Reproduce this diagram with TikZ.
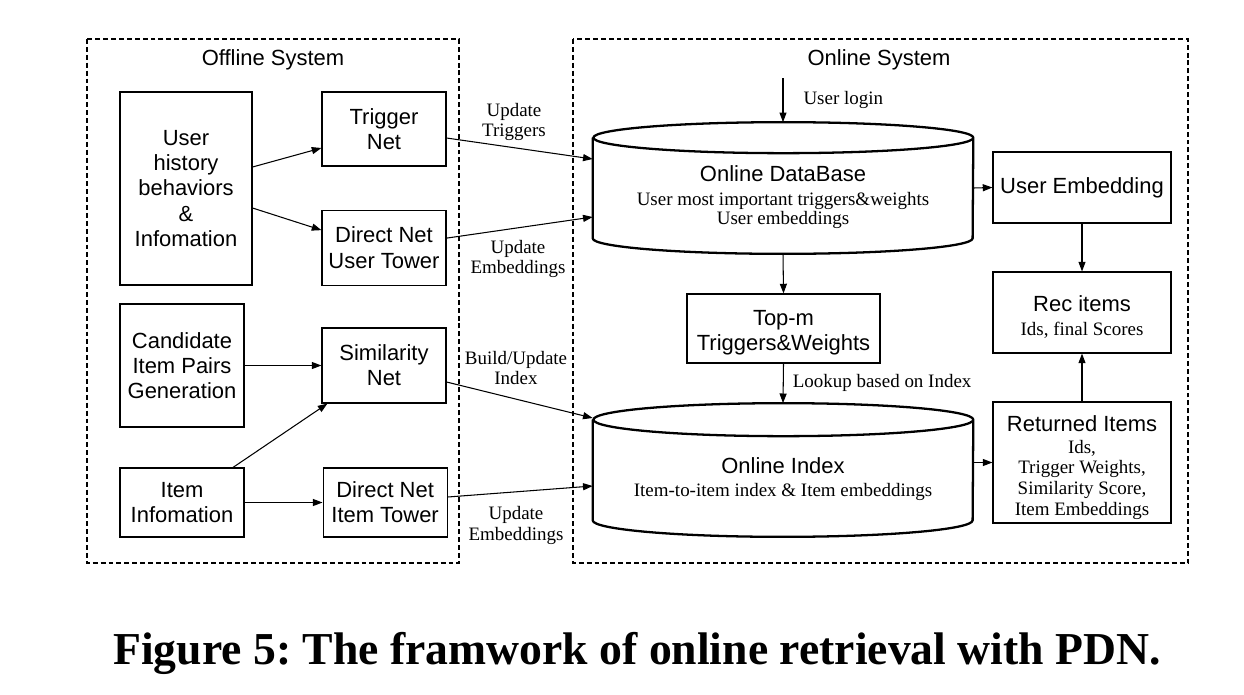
\documentclass[tikz,border=0pt]{standalone}
\usepackage{fontspec}
\setmainfont{Liberation Serif}
\setsansfont{Liberation Sans}
\usetikzlibrary{arrows.meta,positioning}

\newcommand{\boxfont}{\sffamily\fontsize{12.5}{14.3}\selectfont}
\newcommand{\notefont}{\rmfamily\fontsize{10.8}{11.9}\selectfont}
\frenchspacing

\begin{document}
\begin{tikzpicture}[x=0.02cm, y=-0.02cm,
  module/.style={rectangle, draw, line width=0.65pt, align=center,
    font=\boxfont, inner sep=0pt, minimum width=2.48cm},
  store/.style={rectangle, minimum width=7.6cm, minimum height=2cm,
    inner sep=0pt},
  storeline/.style={line width=1.3pt},
  zone/.style={draw, dash pattern=on 2.8pt off 1.7pt, line width=0.6pt},
  flow/.style={-{Triangle[length=5.5pt,width=4pt]}, line width=0.6pt},
  note/.style={font=\notefont, align=center, inner sep=0pt}
]
\useasboundingbox (0,0) rectangle (1244,694);

% System frames
\draw[zone] (87,39) rectangle (459,563);
\draw[zone] (573,39) rectangle (1188,563);
\node[font=\boxfont] (offTitle) at (273,60) {Offline System};
\node[font=\boxfont] (onTitle) at (879,60) {Online System};

% Offline modules
\node[module, minimum width=2.64cm, minimum height=3.86cm] (hist)
  at (186,188.5) {User\\history\\behaviors\\\&\\Infomation};
\node[module, minimum height=1.48cm] (trig) at (384,129)
  {Trigger\\Net};
\node[module, minimum height=1.5cm, below=0.86cm of trig] (dnu)
  {Direct Net\\User Tower};
\node[module, minimum height=2.46cm] (cand) at (182,365.5)
  {Candidate\\Item Pairs\\Generation};
\node[module, minimum height=1.5cm] (sim) at (384,365.5)
  {Similarity\\Net};
\node[module, minimum height=1.38cm] (item) at (182,502.5)
  {Item\\Infomation};
\node[module, minimum height=1.38cm, right=1.56cm of item] (dni)
  {Direct Net\\Item Tower};

% Online stores
\node[store] (db) at (783,188) {};
\draw[storeline] (db.north west) -- (db.south west)
  arc[start angle=180, end angle=360, x radius=3.8cm, y radius=0.31cm]
  -- (db.north east)
  arc[start angle=0, end angle=360, x radius=3.8cm, y radius=0.31cm];
\node[note] (dbText) at (783,197)
  {{\boxfont Online DataBase}\\[1.4pt]
   User most important triggers\&weights\\[-1pt]
   User embeddings};

\node[store] (idx) at (783,470) {};
\draw[storeline] (idx.north west) -- (idx.south west)
  arc[start angle=180, end angle=360, x radius=3.8cm, y radius=0.33cm]
  -- (idx.north east)
  arc[start angle=0, end angle=360, x radius=3.8cm, y radius=0.33cm];
\node[note] (idxText) at (783,479)
  {{\boxfont Online Index}\\[1.4pt]
   Item-to-item index \& Item embeddings};

% Online modules
\node[module, minimum width=3.86cm, minimum height=1.38cm] (topm)
  at (783.5,328.5) {\rule{0pt}{13pt}Top-m\\Triggers\&Weights};
\node[module, minimum width=3.56cm, minimum height=1.42cm] (uemb)
  at (1082,187.5) {User Embedding};
\node[module, font=\notefont, minimum width=3.56cm, minimum height=1.62cm]
  (rec) at (1082,312.5)
  {\rule{0pt}{14pt}{\boxfont Rec items}\\[1.6pt] Ids, final Scores};
\node[module, font=\notefont, minimum width=3.56cm, minimum height=2.42cm]
  (ret) at (1082,462.5)
  {\rule{0pt}{15pt}{\boxfont Returned Items}\\[0.4pt] Ids,\\Trigger Weights,\\
   Similarity Score,\\Item Embeddings};

% Offline arrows
\draw[flow] ([yshift=0.43cm]hist.east) -- ([yshift=-0.38cm]trig.west);
\draw[flow] ([yshift=-0.39cm]hist.east) -- ([yshift=0.35cm]dnu.west);
\draw[flow] (cand.east) -- (sim.west);
\draw[flow] ([xshift=1.02cm]item.north) -- ([xshift=0.12cm]sim.south west);
\draw[flow] (item.east) -- (dni.west);

% Offline -> online
\draw[flow] ([yshift=-0.18cm]trig.east) -- ([yshift=0.58cm]db.west);
\draw[flow] ([yshift=0.19cm]dnu.east) -- ([yshift=-0.58cm]db.west);
\draw[flow] ([yshift=-0.33cm]sim.east) -- ([yshift=1.04cm]idx.west);
\draw[flow] ([yshift=0.11cm]dni.east) -- ([yshift=-0.32cm]idx.west);
\node[note] (updTrig) at (514,122) {Update\\Triggers};
\node[note] (updEmbU) at (518,259) {Update\\Embeddings};
\node[note] (bldIdx) at (516,368) {Build/Update\\Index};
\node[note] (updEmbI) at (516,525) {Update\\Embeddings};

% Online arrows
\coordinate (login) at (783,78);
\draw[flow] (login) -- node[note, right=0.4cm] (loginText) {User login}
  ([yshift=0.31cm]db.north);
\draw[flow] ([yshift=-0.31cm]db.south) -- (topm.north);
\draw[flow] (topm.south) -- node[note, right=0.18cm] (lookText)
  {Lookup based on Index} ([yshift=0.33cm]idx.north);
\draw[flow] (db.east) -- (uemb.west);
\draw[flow] (uemb.south) -- (rec.north);
\draw[flow] (ret.north) -- (rec.south);
\draw[flow] (idx.east |- ret.west) -- (ret.west);

% Caption
\node[font=\rmfamily\bfseries\fontsize{26}{30}\selectfont, anchor=base]
  (caption) at (637,664)
  {Figure 5: The framwork of online retrieval with PDN.};
\end{tikzpicture}
\end{document}
